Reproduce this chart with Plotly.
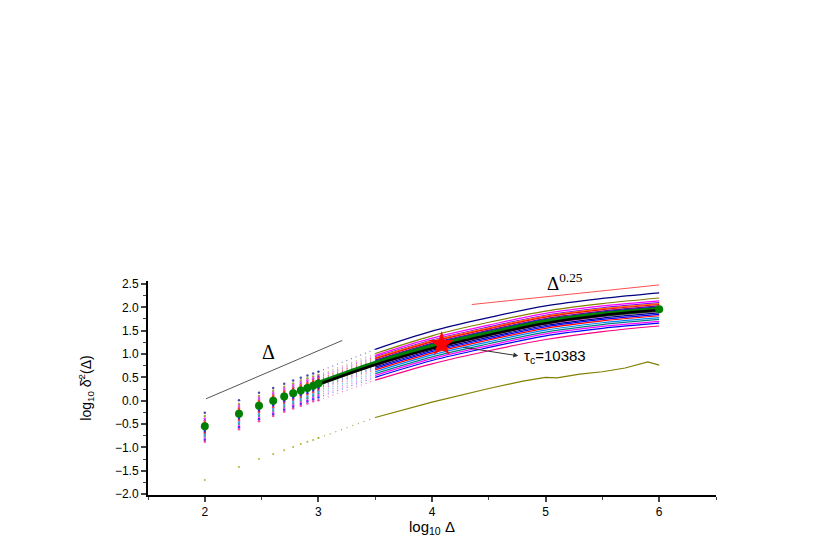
import plotly.graph_objects as go

# lag positions (log10 of lag) for the sparse early points and the line part
X_DOTS = [2.0, 2.301, 2.477, 2.602, 2.699, 2.778, 2.845, 2.903, 2.954, 3.0]
X_LINE = [3.0, 3.5, 4.0, 4.5, 5.0, 5.5, 6.0]

TRAJ_COLORS = [
    "#000080", "#808000", "#FF00FF", "#8000FF", "#FF8000", "#FF0000", "#800080",
    "#0000FF", "#800000", "#008080", "#FF00FF", "#000080", "#0000FF", "#FF0000",
    "#0080FF", "#008080", "#FF00FF", "#0000FF", "#FF0080",
]

TRAJ_DOTS = [
    [-0.26, 0.01, 0.17, 0.27, 0.36, 0.43, 0.49, 0.54, 0.58, 0.62],
    [-0.33, -0.07, 0.10, 0.21, 0.30, 0.37, 0.43, 0.48, 0.52, 0.55],
    [-0.38, -0.11, 0.06, 0.17, 0.26, 0.33, 0.39, 0.44, 0.48, 0.52],
    [-0.42, -0.15, 0.02, 0.13, 0.22, 0.29, 0.35, 0.40, 0.45, 0.50],
    [-0.45, -0.17, 0.00, 0.11, 0.20, 0.27, 0.33, 0.38, 0.43, 0.47],
    [-0.47, -0.19, -0.02, 0.09, 0.18, 0.25, 0.31, 0.36, 0.41, 0.46],
    [-0.49, -0.22, -0.05, 0.06, 0.15, 0.22, 0.28, 0.33, 0.39, 0.44],
    [-0.51, -0.24, -0.07, 0.04, 0.13, 0.20, 0.26, 0.31, 0.37, 0.42],
    [-0.53, -0.26, -0.09, 0.02, 0.11, 0.18, 0.24, 0.29, 0.35, 0.40],
    [-0.58, -0.30, -0.13, -0.02, 0.07, 0.14, 0.20, 0.25, 0.30, 0.35],
    [-0.61, -0.33, -0.16, -0.05, 0.04, 0.11, 0.17, 0.22, 0.27, 0.32],
    [-0.64, -0.36, -0.19, -0.08, 0.01, 0.08, 0.14, 0.19, 0.24, 0.29],
    [-0.67, -0.39, -0.22, -0.11, -0.02, 0.05, 0.11, 0.16, 0.21, 0.26],
    [-0.70, -0.42, -0.25, -0.14, -0.05, 0.02, 0.08, 0.13, 0.18, 0.23],
    [-0.73, -0.46, -0.29, -0.18, -0.09, -0.02, 0.04, 0.09, 0.14, 0.19],
    [-0.77, -0.50, -0.33, -0.22, -0.13, -0.06, 0.00, 0.05, 0.10, 0.15],
    [-0.81, -0.54, -0.37, -0.26, -0.17, -0.10, -0.04, 0.01, 0.06, 0.11],
    [-0.84, -0.57, -0.40, -0.29, -0.20, -0.13, -0.07, -0.02, 0.03, 0.07],
    [-0.88, -0.61, -0.44, -0.33, -0.24, -0.17, -0.11, -0.06, -0.01, 0.01],
]

TRAJ_LINE = [
    [0.62, 1.10, 1.49, 1.78, 2.03, 2.19, 2.31],
    [0.55, 1.01, 1.39, 1.68, 1.92, 2.08, 2.20],
    [0.52, 0.97, 1.34, 1.62, 1.87, 2.03, 2.14],
    [0.50, 0.94, 1.30, 1.58, 1.83, 1.99, 2.10],
    [0.47, 0.92, 1.28, 1.56, 1.81, 1.97, 2.08],
    [0.46, 0.90, 1.26, 1.54, 1.79, 1.95, 2.06],
    [0.44, 0.87, 1.23, 1.51, 1.76, 1.92, 2.03],
    [0.42, 0.85, 1.21, 1.49, 1.74, 1.90, 2.01],
    [0.40, 0.83, 1.19, 1.47, 1.72, 1.88, 1.99],
    [0.35, 0.78, 1.14, 1.42, 1.67, 1.83, 1.94],
    [0.32, 0.75, 1.11, 1.39, 1.64, 1.80, 1.91],
    [0.29, 0.72, 1.08, 1.36, 1.61, 1.77, 1.88],
    [0.26, 0.69, 1.05, 1.33, 1.58, 1.74, 1.85],
    [0.23, 0.66, 1.02, 1.30, 1.55, 1.71, 1.82],
    [0.19, 0.62, 0.98, 1.26, 1.51, 1.67, 1.78],
    [0.15, 0.58, 0.94, 1.22, 1.47, 1.63, 1.74],
    [0.11, 0.54, 0.90, 1.18, 1.43, 1.59, 1.70],
    [0.07, 0.50, 0.86, 1.14, 1.39, 1.55, 1.66],
    [0.01, 0.44, 0.79, 1.07, 1.31, 1.48, 1.60],
]

# ensemble average (green) and mean time-averaged curve (black)
GREEN_DOTS = [-0.55, -0.28, -0.11, 0.00, 0.09, 0.16, 0.22, 0.27, 0.32, 0.37]
GREEN_LINE = [0.37, 0.80, 1.16, 1.44, 1.69, 1.85, 1.96]
BLACK_LINE = [0.35, 0.77, 1.12, 1.41, 1.66, 1.83, 1.94]

# outlier trajectory (olive)
OLIVE_DOTS = [-1.70, -1.42, -1.25, -1.14, -1.06, -0.99, -0.93, -0.88, -0.84, -0.80]
OLIVE_X = [3.0, 3.5, 4.0, 4.5, 4.8, 5.0, 5.1, 5.3, 5.5, 5.7, 5.8, 5.9, 6.0]
OLIVE_Y = [-0.80, -0.36, -0.03, 0.26, 0.42, 0.50, 0.49, 0.57, 0.62, 0.70, 0.76, 0.83, 0.76]

# guide lines
SLOPE1_X = [2.01, 3.21]
SLOPE1_Y = [0.04, 1.29]
SLOPE025_X = [4.35, 6.0]
SLOPE025_Y = [2.06, 2.48]

TAU_C = (4.085, 1.21)

fig = go.Figure()

for col, dots, line in zip(TRAJ_COLORS, TRAJ_DOTS, TRAJ_LINE):
    fig.add_trace(go.Scatter(x=X_DOTS, y=dots, mode="markers",
                             marker=dict(size=2.5, color=col, opacity=0.7)))
    fig.add_trace(go.Scatter(x=X_LINE[:2], y=line[:2], mode="lines", opacity=0.55,
                             line=dict(color=col, width=1.2, dash="1px,4px")))
    fig.add_trace(go.Scatter(x=X_LINE[1:], y=line[1:], mode="lines",
                             line=dict(color=col, width=1.2, shape="spline")))

fig.add_trace(go.Scatter(x=X_DOTS, y=OLIVE_DOTS, mode="markers",
                         marker=dict(size=2, color="#A0A000", opacity=0.8)))
fig.add_trace(go.Scatter(x=OLIVE_X[:2], y=OLIVE_Y[:2], mode="lines", opacity=0.7,
                         line=dict(color="#808000", width=1.2, dash="1px,5px")))
fig.add_trace(go.Scatter(x=OLIVE_X[1:], y=OLIVE_Y[1:], mode="lines",
                         line=dict(color="#808000", width=1.2)))

fig.add_trace(go.Scatter(x=X_LINE, y=GREEN_LINE, mode="lines",
                         line=dict(color="#008000", width=5, shape="spline")))
fig.add_trace(go.Scatter(x=X_LINE, y=BLACK_LINE, mode="lines",
                         line=dict(color="#000000", width=2.5, shape="spline")))
fig.add_trace(go.Scatter(x=X_DOTS + [X_LINE[-1]], y=GREEN_DOTS + [GREEN_LINE[-1]],
                         mode="markers",
                         marker=dict(size=8, color="#008000", line=dict(width=0))))

fig.add_trace(go.Scatter(x=SLOPE1_X, y=SLOPE1_Y, mode="lines",
                         line=dict(color="#555555", width=1)))
fig.add_trace(go.Scatter(x=SLOPE025_X, y=SLOPE025_Y, mode="lines",
                         line=dict(color="#FF5050", width=1)))

fig.add_trace(go.Scatter(x=[TAU_C[0]], y=[TAU_C[1]], mode="markers",
                         marker=dict(symbol="star", size=19, color="#FF0000",
                                     line=dict(width=0))))

serif = "Liberation Serif, Times New Roman, serif"
fig.add_annotation(x=2.56, y=1.05, text="Δ", showarrow=False,
                   font=dict(family=serif, size=20, color="black"))
fig.add_annotation(x=5.17, y=2.55, text="Δ<sup>0.25</sup>", showarrow=False,
                   font=dict(family=serif, size=19, color="black"))
fig.add_annotation(x=4.76, y=0.96, ax=4.26, ay=1.15, axref="x", ayref="y",
                   text="", showarrow=True, arrowhead=2, arrowsize=1,
                   arrowwidth=1, arrowcolor="#333333")
fig.add_annotation(x=4.79, y=0.94, text="τ<sub>c</sub>=10383", showarrow=False,
                   xanchor="left", font=dict(size=15, color="black"))
# x-axis title placed as a paper annotation to sit close under the tick labels
fig.add_annotation(x=0.5, y=-0.15, xref="paper", yref="paper", yanchor="middle",
                   text="log<sub>10</sub> Δ", showarrow=False,
                   font=dict(size=15, color="black"))

# page body has an 8px margin, so the figure is made 8px smaller on each axis
fig.update_layout(
    width=809,
    height=537,
    template=None,
    showlegend=False,
    plot_bgcolor="white",
    paper_bgcolor="white",
    margin=dict(l=140, r=101, t=273, b=50),
    font=dict(family="Liberation Sans, Arial, sans-serif", size=11, color="black"),
)

fig.update_xaxes(
    range=[1.5, 6.5],
    tickvals=[2, 3, 4, 5, 6],
    ticks="outside", ticklen=5, tickwidth=1.5,
    minor=dict(dtick=0.5, tick0=1.5, ticks="outside", ticklen=3, tickwidth=1.2),
    showline=True, linecolor="black", linewidth=2,
    showgrid=False, zeroline=False, automargin=False,
    tickfont=dict(size=12),
)
fig.update_yaxes(
    range=[-2.021, 2.564],
    tickvals=[-2, -1.5, -1, -0.5, 0, 0.5, 1, 1.5, 2, 2.5],
    tickformat=".1f",
    ticks="outside", ticklen=5, tickwidth=1.5,
    minor=dict(dtick=0.25, tick0=0, ticks="outside", ticklen=3, tickwidth=1.2),
    showline=True, linecolor="black", linewidth=2,
    showgrid=False, zeroline=False, automargin=False,
    tickfont=dict(size=12),
    title=dict(text="log<sub>10</sub> δ̄<sup>2</sup>(Δ)", font=dict(size=14), standoff=20),
)

fig.write_html("out.html")
